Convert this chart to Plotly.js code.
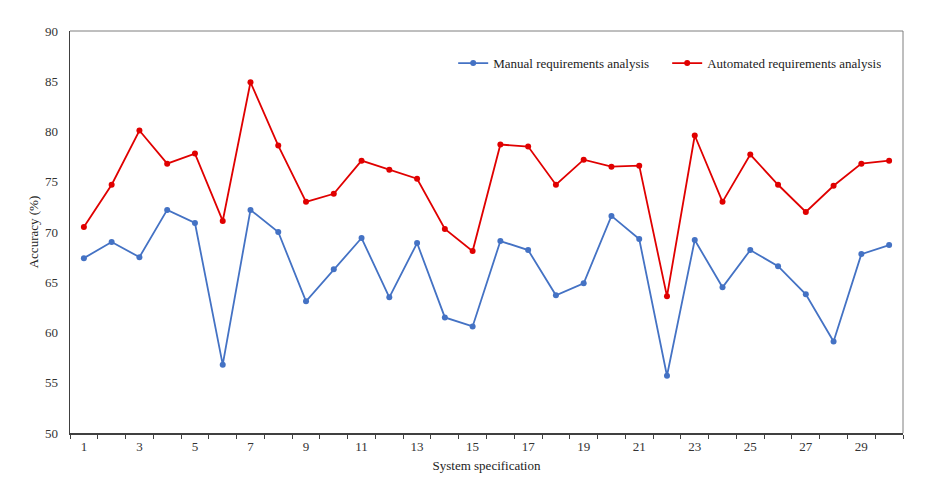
<!DOCTYPE html>
<html>
<head>
<meta charset="utf-8">
<script src="https://cdn.plot.ly/plotly-3.0.1.min.js"></script>
<style>
  html, body { margin: 0; padding: 0; background: #ffffff; }
  #chart { width: 935px; height: 495px; }
</style>
</head>
<body>
<div id="chart"></div>
<script>
// System specifications 1..30
const specs = [1,2,3,4,5,6,7,8,9,10,11,12,13,14,15,16,17,18,19,20,21,22,23,24,25,26,27,28,29,30];

// Accuracy (%) per specification
const manualAccuracy = [67.4, 69.0, 67.5, 72.2, 70.9, 56.8, 72.2, 70.0, 63.1, 66.3,
                        69.4, 63.5, 68.9, 61.5, 60.6, 69.1, 68.2, 63.7, 64.9, 71.6,
                        69.3, 55.7, 69.2, 64.5, 68.2, 66.6, 63.8, 59.1, 67.8, 68.7];
const automatedAccuracy = [70.5, 74.7, 80.1, 76.8, 77.8, 71.1, 84.9, 78.6, 73.0, 73.8,
                           77.1, 76.2, 75.3, 70.3, 68.1, 78.7, 78.5, 74.7, 77.2, 76.5,
                           76.6, 63.6, 79.6, 73.0, 77.7, 74.7, 72.0, 74.6, 76.8, 77.1];

const xTickLabels = [1,3,5,7,9,11,13,15,17,19,21,23,25,27,29];
const yTickValues = [50,55,60,65,70,75,80,85,90];

const seriesNames = ['Manual requirements analysis', 'Automated requirements analysis'];

const FONT = 'Liberation Serif, Times New Roman, serif';
const BLUE = '#4472c4';
const RED = '#e00000';

const traces = [
  {
    x: specs, y: manualAccuracy, name: seriesNames[0],
    type: 'scatter', mode: 'lines+markers',
    line: { color: BLUE, width: 1.8 },
    marker: { color: BLUE, size: 6 }
  },
  {
    x: specs, y: automatedAccuracy, name: seriesNames[1],
    type: 'scatter', mode: 'lines+markers',
    line: { color: RED, width: 1.8 },
    marker: { color: RED, size: 6 }
  }
];

const layout = {
  width: 935, height: 495,
  margin: { l: 70, r: 32, t: 31, b: 62 },
  paper_bgcolor: '#ffffff', plot_bgcolor: '#ffffff',
  font: { family: FONT, size: 13, color: '#333333' },
  showlegend: true,
  legend: {
    orientation: 'h',
    x: 0.460, y: 0.92, xanchor: 'left', yanchor: 'middle',
    bgcolor: 'rgba(0,0,0,0)',
    font: { family: FONT, size: 13, color: '#222222' },
    entrywidth: 169, entrywidthmode: 'pixels'
  },
  xaxis: {
    range: [0.5, 30.5],
    tickmode: 'array', tickvals: xTickLabels, ticktext: xTickLabels.map(String),
    ticks: '',
    minor: { tick0: 0.5, dtick: 1, ticks: 'outside', ticklen: 4, tickcolor: '#404040', tickwidth: 1, showgrid: false },
    showgrid: false, zeroline: false,
    showline: true, linecolor: '#404040', linewidth: 2,
    tickfont: { family: FONT, size: 13, color: '#333333' },
    title: { text: 'System specification', font: { family: FONT, size: 13, color: '#222222' }, standoff: 8 }
  },
  yaxis: {
    range: [50, 90],
    tickmode: 'array', tickvals: yTickValues,
    ticks: '', showgrid: false, zeroline: false,
    showline: true, linecolor: '#404040', linewidth: 1.5,
    ticklabelstandoff: 8,
    tickfont: { family: FONT, size: 13, color: '#333333' },
    title: { text: 'Accuracy (%)', font: { family: FONT, size: 13, color: '#222222' }, standoff: 3 }
  },
  shapes: [
    { type: 'line', xref: 'paper', yref: 'paper', x0: 0, x1: 1, y0: 1, y1: 1,
      line: { color: '#7f7f7f', width: 1 }, layer: 'below' },
    { type: 'line', xref: 'paper', yref: 'paper', x0: 1, x1: 1, y0: 0, y1: 1,
      line: { color: '#7f7f7f', width: 1 }, layer: 'below' }
  ]
};

Plotly.newPlot('chart', traces, layout, { displayModeBar: false, staticPlot: true });
</script>
</body>
</html>
